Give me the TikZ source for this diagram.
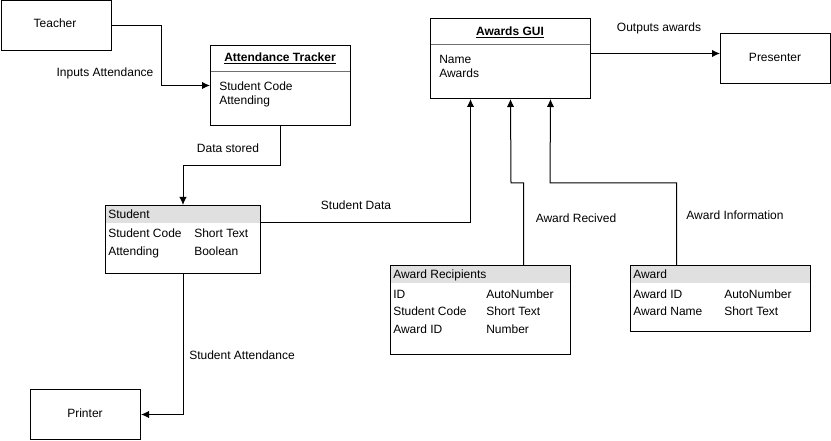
\documentclass[tikz,border=0pt]{standalone}
\usepackage{fontspec}
\setmainfont{Liberation Sans}
\usetikzlibrary{arrows.meta,calc}
\newcommand{\fs}{\fontsize{9pt}{11pt}\selectfont}
\definecolor{hdrgray}{HTML}{E0E0E0}
\definecolor{divgray}{HTML}{707070}
\tikzset{
  box/.style={draw, line width=0.75pt, inner sep=0, anchor=north west, font=\fs},
  tbl/.style={box, path picture={\fill[hdrgray] (path picture bounding box.north west) rectangle ([yshift=-13.5pt]path picture bounding box.north east);}},
  cls/.style={box, path picture={\draw[divgray, line width=0.75pt] ([yshift=-19.5pt]path picture bounding box.north west) -- ([yshift=-19.5pt]path picture bounding box.north east);}},
  txt/.style={font=\fs, inner sep=0, anchor=base west},
  lbl/.style={font=\fs, inner sep=0, anchor=base},
  conn/.style={line width=0.75pt, -{Latex[length=6pt,width=5.5pt]}},
}
\begin{document}
\begin{tikzpicture}[x=0.75pt,y=-0.75pt]
\useasboundingbox (0,0) rectangle (831,441);
% boxes
\node[box, minimum width=82.5pt, minimum height=37.5pt] (teacher) at (0.5,0.5) {};
\node[cls, minimum width=105pt, minimum height=60pt] (att) at (210,45) {};
\node[tbl, minimum width=116.25pt, minimum height=51pt] (student) at (105,205) {};
\node[cls, minimum width=120pt, minimum height=60pt] (gui) at (430,18) {};
\node[box, minimum width=82.5pt, minimum height=37.5pt] (pres) at (720,33) {};
\node[tbl, minimum width=135pt, minimum height=66.75pt] (recip) at (390,265) {};
\node[tbl, minimum width=135pt, minimum height=49.5pt] (award) at (630,265) {};
\node[box, minimum width=82.5pt, minimum height=37.5pt] (printer) at (30,389) {};
% texts in boxes
\node[lbl] (teachert) at (55,27.5) {Teacher};
\node[lbl] (prest) at (775,61.5) {Presenter};
\node[lbl] (printert) at (85,417.5) {Printer};
\node[lbl] (attt) at (280,61.5) {\underline{\textbf{Attendance Tracker}}};
\node[txt] (att1) at (219,90.5) {Student Code};
\node[txt] (att2) at (219,104.5) {Attending};
\node[lbl] (guit) at (510,35.5) {\underline{\textbf{Awards GUI}}};
\node[txt] (gui1) at (439,63.5) {Name};
\node[txt] (gui2) at (439,77.5) {Awards};
\node[txt] (st0) at (108,218.5) {Student};
\node[txt] (st1) at (108,237.5) {Student Code};
\node[txt] (st2) at (194,237.5) {Short Text};
\node[txt] (st3) at (108,255.5) {Attending};
\node[txt] (st4) at (194,255.5) {Boolean};
\node[txt] (ar0) at (393,278.5) {Award Recipients};
\node[txt] (ar1) at (393,298.5) {ID};
\node[txt] (ar2) at (486,298.5) {AutoNumber};
\node[txt] (ar3) at (393,315.5) {Student Code};
\node[txt] (ar4) at (486,315.5) {Short Text};
\node[txt] (ar5) at (393,333.5) {Award ID};
\node[txt] (ar6) at (486,333.5) {Number};
\node[txt] (aw0) at (633,278.5) {Award};
\node[txt] (aw1) at (633,298.5) {Award ID};
\node[txt] (aw2) at (724,298.5) {AutoNumber};
\node[txt] (aw3) at (633,315.5) {Award Name};
\node[txt] (aw4) at (724,315.5) {Short Text};
% connectors
\draw[conn] (teacher.east) -- ++(50,0) |- (att.west);
\draw[conn] (att.south) -- ++(0,40) -| (student.north);
\draw[conn] ([yshift=-13.5pt]student.north east) -| ([xshift=-30pt]gui.south);
\draw[conn] ([xshift=32.25pt]recip.north) |- (511,183) -- (gui.south);
\draw[conn] ([xshift=-33pt]award.north) |- (550,183) -- ([xshift=30pt]gui.south);
\draw[conn] ([yshift=3.75pt]gui.east) -- ([yshift=3.75pt]pres.west);
\draw[conn] (student.south) |- (printer.east);
% labels
\node[lbl] (l1) at (105,76.5) {Inputs Attendance};
\node[lbl] (l2) at (228,152.5) {Data stored};
\node[lbl] (l3) at (356,209.5) {Student Data};
\node[lbl] (l4) at (659,31.5) {Outputs awards};
\node[lbl] (l5) at (576,222.5) {Award Recived};
\node[lbl] (l6) at (735,219.5) {Award Information};
\node[lbl] (l7) at (242,359.5) {Student Attendance};
\end{tikzpicture}
\end{document}
